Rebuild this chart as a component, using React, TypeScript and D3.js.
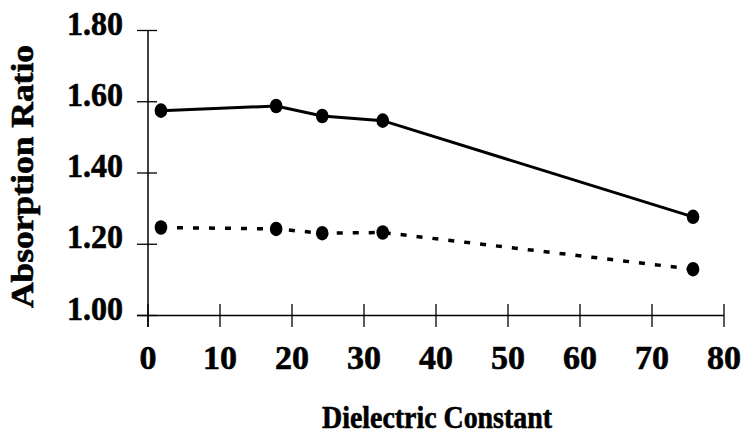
import React from "react";
import * as d3 from "d3";

const dielectric = [1.8, 17.8, 24.2, 32.6, 75.7];
const solidSeries = [1.575, 1.588, 1.56, 1.547, 1.277];
const dashedSeries = [1.247, 1.243, 1.231, 1.233, 1.13];
const xTicks = [0, 10, 20, 30, 40, 50, 60, 70, 80];
const yTicks = [1.0, 1.2, 1.4, 1.6, 1.8];
const xTitle = "Dielectric Constant";
const yTitle = "Absorption Ratio";

const W = 744;
const H = 434;

export default function App() {
  const x = d3.scaleLinear().domain([0, 80]).range([148, 724]);
  const y = d3.scaleLinear().domain([1.0, 1.8]).range([315.5, 30.5]);
  const line = d3
    .line<number>()
    .x((_, i) => x(dielectric[i]))
    .y((d) => y(d));
  const font = "'Liberation Serif', 'Times New Roman', serif";
  const x0 = x(0);
  const yBase = y(1.0);
  const textStroke = { stroke: "#000", strokeWidth: 0.6 };
  return (
    <svg
      width={W}
      height={H}
      style={{ position: "absolute", left: 0, top: 0, background: "#fff" }}
      fontFamily={font}
      fontWeight="bold"
    >
      <rect width={W} height={H} fill="#fff" />
      {/* axes */}
      <line x1={x0} x2={x0} y1={y(1.8)} y2={yBase + 11.5} stroke="#000" strokeWidth={1.5} />
      <line x1={x0 - 11} x2={x(80)} y1={yBase} y2={yBase} stroke="#000" strokeWidth={1.5} />
      {yTicks.map((t) => (
        <g key={"y" + t}>
          <line x1={x0 - 11} x2={x0 + 9} y1={y(t)} y2={y(t)} stroke="#000" strokeWidth={1.3} />
          <text
            x={123}
            y={y(t) + 4}
            textAnchor="end"
            fontSize={34}
            fill="#000"
            {...textStroke}
            textLength={56}
            lengthAdjust="spacingAndGlyphs"
          >
            {t.toFixed(2)}
          </text>
        </g>
      ))}
      {xTicks.map((t) => (
        <g key={"x" + t}>
          <line x1={x(t)} x2={x(t)} y1={yBase - 11.5} y2={yBase + 11.5} stroke="#000" strokeWidth={1.3} />
          <text x={x(t)} y={369} textAnchor="middle" fontSize={34} fill="#000" {...textStroke}>
            {t}
          </text>
        </g>
      ))}
      {/* series */}
      <path d={line(solidSeries) || ""} fill="none" stroke="#000" strokeWidth={3} />
      <path
        d={line(dashedSeries) || ""}
        fill="none"
        stroke="#000"
        strokeWidth={3.5}
        strokeDasharray="6 10"
      />
      {solidSeries.map((v, i) => (
        <ellipse key={"s" + i} cx={x(dielectric[i])} cy={y(v)} rx={6.3} ry={7.3} fill="#000" />
      ))}
      {dashedSeries.map((v, i) => (
        <ellipse key={"d" + i} cx={x(dielectric[i])} cy={y(v)} rx={6.3} ry={7.3} fill="#000" />
      ))}
      {/* titles */}
      <text
        x={437}
        y={428}
        textAnchor="middle"
        fontSize={32}
        fill="#000"
        {...textStroke}
        textLength={230}
        lengthAdjust="spacingAndGlyphs"
      >
        {xTitle}
      </text>
      <text
        transform="translate(33,176.5) rotate(-90)"
        textAnchor="middle"
        fontSize={32}
        fill="#000"
        {...textStroke}
        textLength={263}
        lengthAdjust="spacingAndGlyphs"
      >
        {yTitle}
      </text>
    </svg>
  );
}
